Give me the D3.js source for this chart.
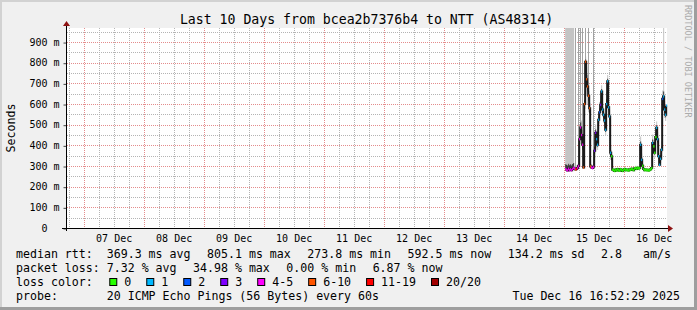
<!DOCTYPE html>
<html>
<head>
<meta charset="utf-8">
<script src="https://cdn.jsdelivr.net/npm/d3@7"></script>
<style>
  html, body { margin: 0; padding: 0; background: #f0f0f0; }
  svg { display: block; }
  text { font-family: "DejaVu Sans Mono", monospace; fill: #000; }
</style>
</head>
<body>
<div id="chart"></div>
<script>
// values
const chartTitle = 'Last 10 Days from bcea2b7376b4 to NTT (AS48314)';
const yLabel = 'Seconds';
const watermark = 'RRDTOOL / TOBI OETIKER';
const yTicks = [0, 100, 200, 300, 400, 500, 600, 700, 800, 900];
const yMinor = [50, 150, 250, 350, 450, 550, 650, 750, 850, 950];
const yMax = 968;
const viewStart = Date.UTC(2025, 11, 6, 17, 20);
const viewEnd = Date.UTC(2025, 11, 16, 17, 20);
const dayLabels = ['07 Dec', '08 Dec', '09 Dec', '10 Dec', '11 Dec', '12 Dec', '13 Dec', '14 Dec', '15 Dec', '16 Dec'];
const minorHours = [6, 12, 18];

// samples every 24 min starting Dec 15 00:36
const sampleStart = Date.UTC(2025, 11, 15, 0, 36);
const sampleStepMin = 24;
const medianMs = [
  285, 282, 278, 287, 280, 284, 279, 286, 291, 288,
  283, 286, 290, 300, 430, 487, 450, 403, 293, 600,
  805, 720, 685, 640, 580, 298, 293, 290, 296, 374,
  461, 430, 403, 524, 560, 596, 661, 573, 548, 520,
  475, 600, 710, 584, 540, 364, 347, 282, 280, 276,
  283, 278, 285, 279, 277, 284, 281, 276, 282, 286,
  279, 283, 280, 278, 284, 281, 287, 283, 280, 289,
  291, 286, 292, 288, 290, 403, 330, 301, 285, 280,
  283, 279, 282, 278, 281, 284, 290, 412, 395, 364,
  440, 485, 430, 347, 306, 335, 379, 625, 637, 573,
  548, 592.5
];
// index into lossLabels / lossColors
const lossClass = [
  4, 4, 4, 4, 4, 4, 4, 4, 4, 4,
  5, 6, 4, 4, 4, 4, 4, 4, 5, 5,
  5, 5, 5, 5, 5, 5, 4, 4, 4, 3,
  3, 1, 1, 1, 2, 3, 1, 1, 1, 1,
  1, 1, 1, 1, 1, 1, 0, 0, 0, 0,
  0, 0, 0, 0, 0, 0, 0, 0, 0, 0,
  0, 0, 0, 0, 0, 0, 0, 0, 0, 0,
  0, 0, 0, 0, 0, 1, 1, 0, 0, 0,
  0, 0, 0, 0, 0, 0, 0, 1, 0, 0,
  0, 1, 1, 1, 1, 1, 1, 2, 1, 1,
  1, 1
];
// smoke spread above / below the median (ms)
const smokeUp = [
  800, 800, 800, 800, 800, 800, 800, 800, 800, 12,
  15, 18, 20, 30, 40, 70, 70, 40, 25, 50,
  25, 60, 55, 60, 60, 30, 15, 15, 25, 45,
  40, 40, 35, 35, 50, 45, 30, 35, 30, 30,
  35, 60, 30, 35, 30, 35, 25, 15, 8, 7,
  9, 6, 8, 7, 6, 9, 8, 6, 7, 9,
  8, 7, 6, 8, 9, 7, 8, 6, 9, 8,
  10, 7, 9, 8, 10, 40, 30, 15, 10, 8,
  7, 9, 6, 8, 7, 9, 15, 40, 30, 35,
  40, 30, 35, 40, 25, 30, 40, 40, 800, 40,
  30, 30
];
const smokeDown = [
  8, 8, 7, 9, 8, 8, 7, 9, 10, 8,
  7, 7, 8, 15, 70, 50, 50, 70, 8, 60,
  100, 80, 85, 80, 60, 10, 8, 7, 9, 35,
  40, 40, 25, 45, 40, 35, 50, 35, 40, 30,
  25, 40, 60, 35, 40, 35, 45, 6, 4, 4,
  4, 3, 4, 4, 3, 4, 4, 3, 4, 4,
  4, 3, 4, 4, 4, 3, 4, 4, 4, 4,
  4, 3, 4, 4, 4, 20, 25, 8, 5, 4,
  4, 3, 4, 4, 4, 4, 6, 30, 30, 25,
  40, 50, 40, 30, 10, 20, 30, 80, 60, 40,
  30, 30
];
// samples whose smoke runs off the top as a darker thin line
const offscaleIdx = [10, 13, 15, 17, 20, 23, 28];

const lossLabels = ['0', '1', '2', '3', '4-5', '6-10', '11-19', '20/20'];
const lossColors = ['#26ff00', '#00b8ff', '#0059ff', '#7e00ff', '#ff00ff', '#ff5500', '#ff0000', '#a10000'];

const rttRow = ['median rtt:  369.3 ms avg', '805.1 ms max', '273.8 ms min', '592.5 ms now', '134.2 ms sd', '2.8   am/s'];
const lossRow = ['packet loss: 7.32 % avg', '34.98 % max', '0.00 % min', '6.87 % now'];
const probeRow = 'probe:       20 ICMP Echo Pings (56 Bytes) every 60s';
const stampText = 'Tue Dec 16 16:52:29 2025';

const W = 697, H = 310;
const plot = { left: 67, right: 667, top: 28, bottom: 228 };

const svg = d3.select('#chart').append('svg')
    .attr('width', W)
    .attr('height', H);

// background and 3d frame
svg.append('rect').attr('width', W).attr('height', H).attr('fill', '#f0f0f0');
svg.append('rect').attr('x', 0).attr('y', 0).attr('width', W).attr('height', 2).attr('fill', '#d2d2d2');
svg.append('rect').attr('x', 0).attr('y', 0).attr('width', 2).attr('height', H).attr('fill', '#d2d2d2');
svg.append('rect').attr('x', 0).attr('y', H - 3).attr('width', W).attr('height', 3).attr('fill', '#9e9e9e');
svg.append('rect').attr('x', W - 3).attr('y', 0).attr('width', 3).attr('height', H).attr('fill', '#9e9e9e');

svg.append('rect')
    .attr('x', plot.left).attr('y', plot.top)
    .attr('width', plot.right - plot.left).attr('height', plot.bottom - plot.top)
    .attr('fill', '#ffffff');

const x = d3.scaleUtc()
    .domain([viewStart, viewEnd])
    .range([plot.left, plot.right]);

const y = d3.scaleLinear()
    .domain([0, yMax])
    .range([plot.bottom, plot.top])
    .clamp(true);

const px = v => Math.round(v) + 0.5;

// grid: grey dotted every 6 h / 50 ms, pink dotted every day / 100 ms
const days = d3.utcDay.range(new Date(viewStart), new Date(viewEnd));
const sixHours = [];
[d3.utcDay.floor(new Date(viewStart))].concat(days).forEach(d => {
    minorHours.forEach(h => {
        const t = new Date(d.getTime() + h * 3600000);
        if (t > viewStart && t < viewEnd) sixHours.push(t);
    });
});

const minorGrid = svg.append('g')
    .attr('fill', 'none')
    .attr('stroke', '#b4b4b4')
    .attr('stroke-width', 1)
    .attr('stroke-dasharray', '1,1');

minorGrid.selectAll('path.v')
    .data(sixHours)
    .join('path')
    .attr('class', 'v')
    .attr('d', d => `M${px(x(d))},${plot.top}V${plot.bottom}`);

minorGrid.selectAll('path.h')
    .data(yMinor.filter(v => v < yMax))
    .join('path')
    .attr('class', 'h')
    .attr('d', d => `M${plot.left},${px(y(d))}H${plot.right}`);

const majorGrid = svg.append('g')
    .attr('fill', 'none')
    .attr('stroke', '#e48c8c')
    .attr('stroke-width', 1)
    .attr('stroke-dasharray', '1,1');

majorGrid.selectAll('path.v')
    .data(days)
    .join('path')
    .attr('class', 'v')
    .attr('d', d => `M${px(x(d))},${plot.top}V${plot.bottom}`);

majorGrid.selectAll('path.h')
    .data(yTicks.filter(v => v > 0))
    .join('path')
    .attr('class', 'h')
    .attr('d', d => `M${plot.left},${px(y(d))}H${plot.right}`);

// series
const samples = medianMs.map((m, i) => ({
    t: new Date(sampleStart + i * sampleStepMin * 60000),
    med: m,
    loss: lossClass[i],
    up: smokeUp[i],
    down: smokeDown[i]
}));

const data = svg.append('g');

data.append('path')
    .datum(samples)
    .attr('fill', '#c4c4c4')
    .attr('d', d3.area()
        .curve(d3.curveStepAfter)
        .x(d => x(d.t))
        .y0(d => y(d.med - d.down))
        .y1(d => y(d.med + d.up)));

data.selectAll('line.offscale')
    .data(offscaleIdx.map(i => samples[i]))
    .join('line')
    .attr('class', 'offscale')
    .attr('x1', d => Math.round(x(d.t)) + 0.5).attr('x2', d => Math.round(x(d.t)) + 0.5)
    .attr('y1', d => y(d.med)).attr('y2', plot.top)
    .attr('stroke', '#a2a2a2').attr('stroke-width', 1);

data.append('path')
    .datum(samples)
    .attr('fill', '#3a3a3a')
    .attr('d', d3.area()
        .curve(d3.curveStepAfter)
        .x(d => x(d.t))
        .y0(d => y(d.med - Math.min(d.down, 60) * 0.4))
        .y1(d => y(d.med + Math.min(d.up, 60) * 0.4)));

data.append('path')
    .datum(samples)
    .attr('fill', 'none')
    .attr('stroke', '#1a1a1a')
    .attr('stroke-width', 2)
    .attr('d', d3.line().curve(d3.curveStepAfter).x(d => x(d.t)).y(d => y(d.med)));

data.selectAll('rect.med')
    .data(samples)
    .join('rect')
    .attr('class', 'med')
    .attr('x', d => x(d.t))
    .attr('y', d => y(d.med) - 1.25)
    .attr('width', d => d.loss === 0 ? 1.3 : 1)
    .attr('height', 2.5)
    .attr('fill', d => lossColors[d.loss]);

// axes
const yAxis = svg.append('g')
    .attr('transform', `translate(${plot.left - 0.5},0)`)
    .call(d3.axisLeft(y).tickValues(yTicks).tickSize(3).tickPadding(4)
        .tickFormat(d => d === 0 ? '0  ' : `${d} m`));
yAxis.select('.domain').remove();
yAxis.selectAll('line').attr('stroke', '#444').attr('transform', 'translate(0,0.5)');
yAxis.selectAll('text')
    .attr('xml:space', 'preserve')
    .attr('font-family', '"DejaVu Sans Mono", monospace')
    .attr('font-size', '10px')
    .attr('fill', '#000');

const noonTicks = days.map(d => new Date(d.getTime() + 12 * 3600000));
const xAxis = svg.append('g')
    .attr('transform', `translate(0,${plot.bottom})`)
    .call(d3.axisBottom(x).tickValues(noonTicks).tickSize(0).tickPadding(6.6)
        .tickFormat((d, i) => dayLabels[i]));
xAxis.select('.domain').remove();
xAxis.selectAll('text')
    .attr('font-family', '"DejaVu Sans Mono", monospace')
    .attr('font-size', '10px')
    .attr('fill', '#000');

// axis lines with arrows
svg.append('line')
    .attr('x1', plot.left - 5).attr('x2', plot.right + 1)
    .attr('y1', plot.bottom + 0.5).attr('y2', plot.bottom + 0.5)
    .attr('stroke', '#000').attr('shape-rendering', 'crispEdges');
svg.append('line')
    .attr('x1', plot.left - 0.5).attr('x2', plot.left - 0.5)
    .attr('y1', plot.bottom + 3).attr('y2', plot.top - 4)
    .attr('stroke', '#000').attr('shape-rendering', 'crispEdges');
svg.append('path')
    .attr('d', `M${plot.right + 1},${plot.bottom - 3} L${plot.right + 6},${plot.bottom + 0.5} L${plot.right + 1},${plot.bottom + 4} Z`)
    .attr('fill', '#8e1313');
svg.append('path')
    .attr('d', `M${plot.left - 4},${plot.top - 2} L${plot.left - 0.5},${plot.top - 7} L${plot.left + 3},${plot.top - 2} Z`)
    .attr('fill', '#8e1313');

// titles
svg.append('text')
    .attr('x', (plot.left + plot.right) / 2 - 0.5)
    .attr('y', 23.5)
    .attr('text-anchor', 'middle')
    .attr('font-size', '13.2px')
    .text(chartTitle);

svg.append('text')
    .attr('transform', `translate(14.5,${(plot.top + plot.bottom) / 2}) rotate(-90)`)
    .attr('text-anchor', 'middle')
    .attr('font-size', '11.6px')
    .text(yLabel);

svg.append('text')
    .attr('transform', 'translate(685,5) rotate(90)')
    .attr('font-size', '8.5px')
    .style('fill', '#ababab')
    .text(watermark);

// legend
const legend = svg.append('g').attr('font-size', '11.6px');
const legendLeft = 16, legendGap = 16.5;

function textRow(items, baseY) {
    let cx = legendLeft;
    items.forEach(s => {
        const t = legend.append('text')
            .attr('xml:space', 'preserve')
            .attr('x', cx).attr('y', baseY)
            .text(s);
        cx += t.node().getComputedTextLength() + legendGap;
    });
}

textRow(rttRow, 258);
textRow(lossRow, 272);

const lc = legend.append('text').attr('x', legendLeft).attr('y', 286).text('loss color:');
let bx = legendLeft + lc.node().getComputedTextLength() + legendGap;
lossLabels.forEach((lab, i) => {
    legend.append('rect')
        .attr('x', bx + 0.5).attr('y', 278.5)
        .attr('width', 7).attr('height', 7)
        .attr('fill', lossColors[i])
        .attr('stroke', '#000');
    const t = legend.append('text').attr('x', bx + 15).attr('y', 286).text(lab);
    bx += 15 + t.node().getComputedTextLength() + 15;
});

legend.append('text')
    .attr('xml:space', 'preserve')
    .attr('x', legendLeft).attr('y', 300)
    .text(probeRow);
legend.append('text')
    .attr('x', 680).attr('y', 300)
    .attr('text-anchor', 'end')
    .text(stampText);
</script>
</body>
</html>
